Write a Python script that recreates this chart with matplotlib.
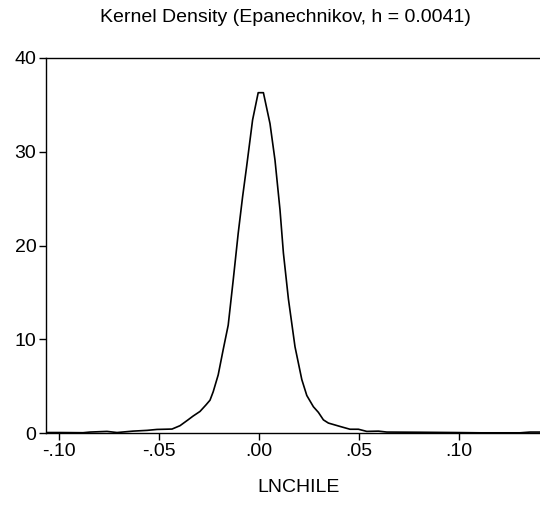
import matplotlib
matplotlib.use("Agg")
import matplotlib.pyplot as plt

# kernel density estimate of LNCHILE
grid_x = [-0.1065, -0.0995, -0.088, -0.0845, -0.076, -0.071, -0.063, -0.056,
          -0.051, -0.0435, -0.0395, -0.0355, -0.033, -0.0295, -0.0265, -0.0245,
          -0.0229, -0.0204, -0.0179, -0.0154, -0.0129, -0.0104, -0.0082, -0.0062,
          -0.0032, -0.0004, 0.0022, 0.0055, 0.008, 0.0105, 0.0122, 0.0147,
          0.018, 0.0214, 0.0239, 0.0272, 0.0297, 0.0322, 0.0347, 0.0405,
          0.0455, 0.0497, 0.0539, 0.0597, 0.0639, 0.0805, 0.098, 0.1105,
          0.1305, 0.1355, 0.1405]
density = [0.05, 0.05, 0.03, 0.1, 0.17, 0.05, 0.2, 0.28,
           0.38, 0.42, 0.78, 1.4, 1.8, 2.3, 3.0, 3.5,
           4.4, 6.2, 8.9, 11.5, 16.3, 21.3, 25.2, 28.4,
           33.4, 36.3, 36.3, 33.0, 29.1, 23.8, 19.2, 14.3,
           9.2, 5.7, 4.0, 2.8, 2.2, 1.4, 1.06, 0.7,
           0.4, 0.4, 0.17, 0.2, 0.1, 0.08, 0.05, 0.02,
           0.02, 0.1, 0.1]

xticks = [-0.10, -0.05, 0.00, 0.05, 0.10]
xtick_labels = ["-.10", "-.05", ".00", ".05", ".10"]
yticks = [0, 10, 20, 30, 40]

plt.rcParams["font.family"] = ["Liberation Sans", "DejaVu Sans"]

W, H = 540, 519
fig = plt.figure(figsize=(W / 100, H / 100), dpi=100)
ax = fig.add_axes([46 / W, 1 - 433 / H, (W - 46) / W, (433 - 58) / H])

ax.plot(grid_x, density, color="black", lw=1.2)
ax.set_xlim(-0.1065, 0.1405)
ax.set_ylim(0, 40)

ax.set_xticks(xticks)
ax.set_xticklabels(xtick_labels)
ax.set_yticks(yticks)
ax.tick_params(direction="out", length=5, width=1, labelsize=14, pad=2)
ax.spines["right"].set_visible(False)
for s in ["left", "bottom", "top"]:
    ax.spines[s].set_linewidth(1.0)

fig.text(285 / W, 1 - 18 / H, "Kernel Density (Epanechnikov, h = 0.0041)",
         ha="center", va="center", fontsize=14)
fig.text(299 / W, 1 - 487 / H, "LNCHILE", ha="center", va="center", fontsize=14)

fig.savefig("out.png", dpi=100)
